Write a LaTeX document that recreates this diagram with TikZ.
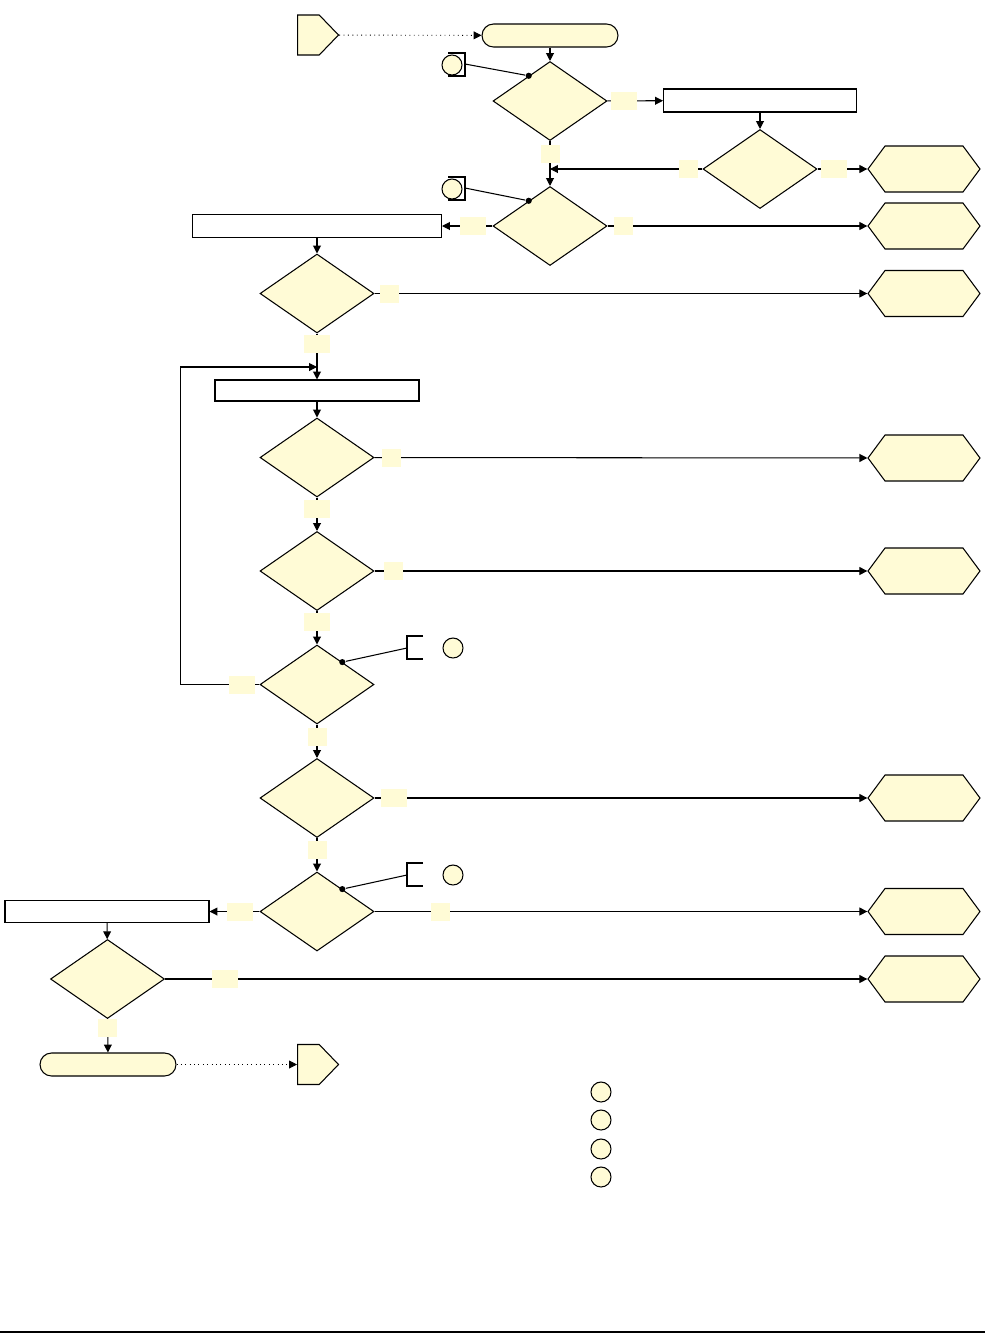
\documentclass[tikz,border=0pt]{standalone}
\usepackage{tikz}
\usetikzlibrary{arrows.meta,positioning,calc,shapes.geometric,shapes.symbols}
\definecolor{cream}{RGB}{255,251,214}
\tikzset{
  dec node/.style   = {draw, diamond, fill=cream, minimum width=2.28cm,
                       minimum height=1.58cm, inner sep=0pt, aspect=1.44},
  proc box/.style   = {draw, rectangle, fill=white, minimum height=0.46cm,
                       inner sep=0pt},
  term box/.style   = {draw, rounded corners=0.23cm, fill=cream,
                       minimum width=2.72cm, minimum height=0.46cm, inner sep=0pt},
  exit node/.style  = {draw, signal, signal to=east and west,
                       signal pointer angle=107, fill=cream,
                       minimum width=2.24cm, minimum height=0.92cm, inner sep=0pt},
  page node/.style  = {draw, signal, signal to=east, signal pointer angle=92,
                       fill=cream, minimum width=0.82cm, minimum height=0.8cm,
                       inner sep=0pt, anchor=west},
  note circ/.style  = {draw, circle, fill=cream, minimum size=0.4cm, inner sep=0pt},
  note dot/.style   = {fill, circle, minimum size=3.5pt, inner sep=0pt},
  lbl box/.style    = {fill=cream, minimum width=0.52cm, minimum height=0.36cm,
                       inner sep=0pt},
  lbl thin/.style   = {lbl box, minimum width=0.38cm},
  arr/.style        = {-{Triangle[length=4.5pt,width=4.5pt]}, line width=0.6pt},
  dotted arr/.style = {-{Triangle[length=4.5pt,width=4.5pt]}, dotted, line width=0.5pt},
}

\begin{document}
\begin{tikzpicture}[x=0.02cm, y=-0.02cm, line width=0.6pt]
  \useasboundingbox (0,0) rectangle (985,1333);

  % main column
  \node[page node] (offin)  at (297,35) {};
  \node[term box]  (start)  at (550,35.5) {};
  \node[dec node]  (d1)     at (550,101) {};
  \node[proc box, minimum width=3.86cm] (r2) at (760,100.5) {};
  \node[dec node]  (d2)     at (760,169) {};
  \node[dec node]  (d3)     at (550,226) {};
  \node[proc box, minimum width=4.98cm] (r3) at (317,226) {};
  \node[dec node]  (d4)     at (317,293.5) {};
  \node[proc box, minimum width=4.08cm, minimum height=0.42cm] (r4) at (317,390.5) {};
  \node[dec node]  (d5)     at (317,457.5) {};
  \node[dec node]  (d6)     at (317,571) {};
  \node[dec node]  (d7)     at (317,684.5) {};
  \node[dec node]  (d8)     at (317,798) {};
  \node[dec node]  (d9)     at (317,911.5) {};
  \node[proc box, minimum width=4.08cm, minimum height=0.44cm] (r5) at (107,911.5) {};
  \node[dec node]  (d10)    at (107.5,979) {};
  \node[term box]  (stop)   at (108,1064.5) {};
  \node[page node] (offout) at (297,1064.5) {};

  % exits
  \foreach \y/\n in {169/1,226/2,293.5/3,458/4,571/5,798/6,911.5/7,979/8}
    \node[exit node] (x\n) at (924,\y) {};

  % flow
  \draw[dotted arr] (offin) -- (start);
  \draw[arr] (start) -- (d1);
  \draw[arr] (d1) -- node[lbl box, pos=.3] {} (r2);
  \draw[arr] (r2) -- (d2);
  \draw[arr] (d2) -- node[lbl box, pos=.33] {} (x1);
  \coordinate (mrg) at (d1.south |- d2.west);
  \draw[arr] (d2) -- node[lbl thin, pos=.09] {} (mrg);
  \draw[arr] (d1) -- node[lbl thin, pos=.28] {} (d3);
  \draw[arr] (d3) -- node[lbl box, pos=.38] {} (r3);
  \draw[arr] (d3) -- node[lbl thin, pos=.06] {} (x2);
  \draw[arr] (r3) -- (d4);
  \draw[arr] (d4) -- node[lbl thin, pos=.03] {} (x3);
  \draw[arr] (d4) -- node[lbl box, pos=.23] {} (r4);
  \draw[arr] (r4) -- (d5);
  \draw[arr] (d5) -- node[lbl thin, pos=.034] {} (x4);
  \draw[arr] (d5) -- node[lbl box, pos=.35] {} (d6);
  \draw[arr] (d6) -- node[lbl thin, pos=.038] {} (x5);
  \draw[arr] (d6) -- node[lbl box, pos=.33] {} (d7);
  \coordinate (back) at (317,367);
  \draw[arr] (d7.west) -- node[lbl box, pos=.22] {} ++(-79,0) |- (back);
  \draw[arr] (d7) -- node[lbl thin, pos=.38] {} (d8);
  \draw[arr] (d8) -- node[lbl box, pos=.04] {} (x6);
  \draw[arr] (d8) -- node[lbl thin, pos=.35] {} (d9);
  \draw[arr] (d9) -- node[lbl thin, pos=.134] {} (x7);
  \draw[arr] (d9) -- node[lbl box, pos=.39] {} (r5);
  \draw[arr] (r5) -- (d10);
  \draw[arr] (d10) -- node[lbl box, pos=.085] {} (x8);
  \draw[arr] (d10) -- node[lbl thin, pos=.26] {} (stop);
  \draw[dotted arr] (stop) -- (offout);

  % notes
  \node[note circ] (n1) at (452,65) {};
  \node[note circ] (n2) at (452,189) {};
  \node[note circ] (n3) at (453,648) {};
  \node[note circ] (n4) at (453,875) {};
  \node[note dot] (p1) at ($(d1.north)!.37!(d1.west)$) {};
  \node[note dot] (p2) at ($(d3.north)!.37!(d3.west)$) {};
  \node[note dot] (p3) at ($(d7.north)!.44!(d7.east)$) {};
  \node[note dot] (p4) at ($(d9.north)!.44!(d9.east)$) {};
  \foreach \n in {1,2}{
    \draw ([shift={(-4,-12)}]n\n.center) -| ([shift={(13,11)}]n\n.center) -- ++(-17,0);
    \coordinate (b\n) at ([shift={(13,-1)}]n\n.center);
    \draw (p\n) -- (b\n);
  }
  \foreach \n in {3,4}{
    \draw ([shift={(-30,-12)}]n\n.center) -| ([shift={(-46,11)}]n\n.center) -- ++(16,0);
    \coordinate (b\n) at ([shift={(-46,0)}]n\n.center);
    \draw (p\n) -- (b\n);
  }

  % key
  \foreach \i/\y in {1/1092,2/1120,3/1149,4/1177}
    \node[note circ] (key\i) at (601,\y) {};

  \draw[line width=0.9pt] (0,1332) -- (985,1332);
\end{tikzpicture}
\end{document}
